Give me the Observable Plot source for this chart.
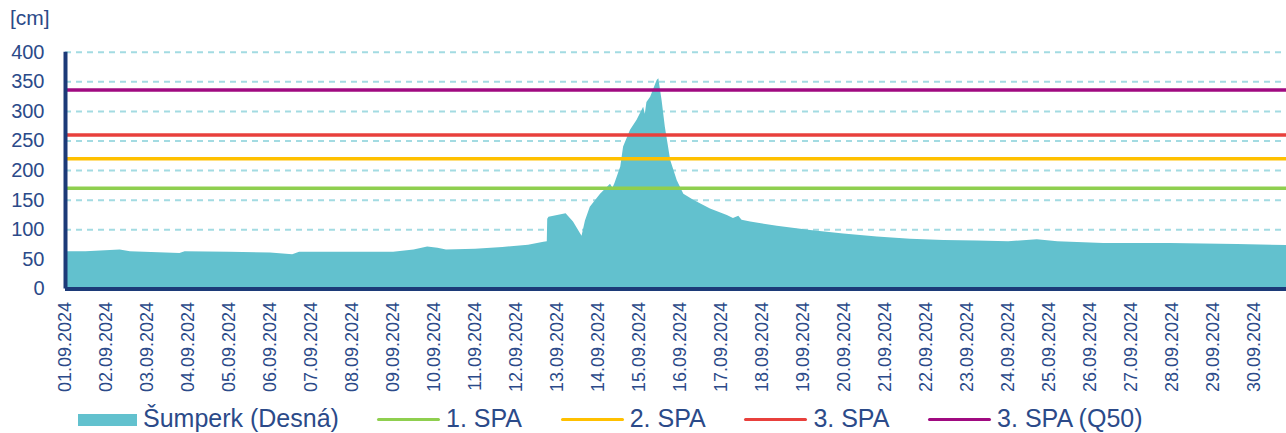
<!DOCTYPE html>
<html>
<head>
<meta charset="utf-8">
<script src="https://cdn.jsdelivr.net/npm/d3@7"></script>
<script src="https://cdn.jsdelivr.net/npm/@observablehq/plot@0.6"></script>
<style>
  html, body { margin: 0; padding: 0; background: #fff; overflow: hidden; }
  #wrap { position: relative; width: 1286px; height: 433px; font-family: "Liberation Sans", Arial, sans-serif; color: #2b4a89; }
  #unit { position: absolute; left: 10px; top: 6px; font-size: 21px; line-height: normal; }
  #chart { position: absolute; left: 0; top: 30px; }
  #legend { position: absolute; left: 0; top: 400px; width: 1286px; height: 33px; }
  #legend .sw { position: absolute; }
  #legend .tx { position: absolute; top: 4px; font-size: 25px; line-height: normal; white-space: nowrap; }
</style>
</head>
<body>
<div id="wrap">
  <div id="unit"></div>
  <div id="chart"></div>
  <div id="legend"></div>
</div>
<script>
// ---- data ----
const unitLabel = "[cm]";
const seriesName = "Šumperk (Desná)";
const seriesColor = "#62c1ce";
const times = [
  "2024-09-01T00:00","2024-09-01T12:00","2024-09-02T08:00","2024-09-02T14:00","2024-09-03T19:00",
  "2024-09-03T22:00","2024-09-05T00:00","2024-09-06T00:00","2024-09-06T13:00","2024-09-06T17:00",
  "2024-09-08T00:00","2024-09-09T00:00","2024-09-09T12:00","2024-09-09T20:00","2024-09-10T02:00",
  "2024-09-10T07:00","2024-09-11T00:00","2024-09-11T16:00","2024-09-12T07:00","2024-09-12T16:00",
  "2024-09-12T18:00","2024-09-12T18:15","2024-09-12T19:00","2024-09-13T05:00","2024-09-13T09:20",
  "2024-09-13T14:20","2024-09-13T16:20","2024-09-13T19:10","2024-09-14T01:10","2024-09-14T07:00",
  "2024-09-14T08:24","2024-09-14T09:36","2024-09-14T13:00","2024-09-14T14:40","2024-09-14T18:43",
  "2024-09-14T22:34","2024-09-15T02:24","2024-09-15T03:22","2024-09-15T04:19","2024-09-15T06:29",
  "2024-09-15T10:19","2024-09-15T11:17","2024-09-15T13:12","2024-09-15T15:07","2024-09-15T18:14",
  "2024-09-15T22:05","2024-09-16T01:55","2024-09-16T07:41","2024-09-16T17:31","2024-09-17T03:22",
  "2024-09-17T06:58","2024-09-17T10:05","2024-09-17T12:00","2024-09-17T17:02","2024-09-18T08:38",
  "2024-09-19T04:05","2024-09-19T23:31","2024-09-20T19:12","2024-09-21T14:38","2024-09-22T10:05",
  "2024-09-23T05:46","2024-09-24T00:00","2024-09-24T16:48","2024-09-25T04:48","2024-09-26T07:41",
  "2024-09-27T22:48","2024-09-29T13:55","2024-09-30T18:40"
];
const levels = [
  63, 63, 66, 63, 60,
  63, 62, 61, 58, 62,
  62, 62, 66, 71, 69,
  66, 67, 70, 74, 79,
  80, 118, 121, 127, 113,
  89, 115, 138, 160, 177,
  170, 178, 206, 240, 268,
  285, 307, 295, 315, 324,
  352, 355, 318, 273, 217,
  183, 160, 150, 135, 124,
  119, 123, 116, 113, 106,
  99, 93, 88, 84, 82,
  81, 80, 83, 80, 77,
  77, 75, 73.5
];
const spaNames = ["1. SPA", "2. SPA", "3. SPA", "3. SPA (Q50)"];
const spaValues = [170, 220, 260, 336];
const spaColors = ["#8fcf4f", "#ffc000", "#e8403c", "#a00a80"];
const yTicks = [0, 50, 100, 150, 200, 250, 300, 350, 400];
const tickLabels = [
  "01.09.2024","02.09.2024","03.09.2024","04.09.2024","05.09.2024","06.09.2024","07.09.2024","08.09.2024",
  "09.09.2024","10.09.2024","11.09.2024","12.09.2024","13.09.2024","14.09.2024","15.09.2024","16.09.2024",
  "17.09.2024","18.09.2024","19.09.2024","20.09.2024","21.09.2024","22.09.2024","23.09.2024","24.09.2024",
  "25.09.2024","26.09.2024","27.09.2024","28.09.2024","29.09.2024","30.09.2024"
];

// ---- build ----
const navy = "#1c3a78";
const data = times.map((t, i) => ({t: new Date(t + "Z"), v: levels[i]}));
const tickDates = tickLabels.map(s => { const [d, m, y] = s.split("."); return new Date(`${y}-${m}-${d}T00:00Z`); });
const fmt = d => tickLabels[tickDates.findIndex(t => +t === +d)];

document.getElementById("unit").textContent = unitLabel;

const chart = Plot.plot({
  width: 1286,
  height: 370,
  marginLeft: 65,
  marginRight: 0,
  marginTop: 21.7,
  marginBottom: 111.5,
  style: {fontFamily: "Liberation Sans, Arial, sans-serif", color: "#2b4a89", background: "transparent", overflow: "visible"},
  x: {type: "utc", domain: d3.extent(data, d => d.t)},
  y: {domain: [0, 400]},
  marks: [
    Plot.ruleY(yTicks.filter(v => v > 0), {stroke: "#a3dbe2", strokeWidth: 2, strokeDasharray: "6,5"}),
    Plot.areaY(data, {x: "t", y: "v", fill: seriesColor}),
    ...spaValues.map((v, i) => Plot.ruleY([v], {stroke: spaColors[i], strokeWidth: 3.5})),
    Plot.ruleX([data[0].t], {stroke: navy, strokeWidth: 4}),
    Plot.ruleY([0], {stroke: navy, strokeWidth: 4}),
    Plot.axisY({ticks: yTicks, tickSize: 0, tickPadding: 21, fontSize: 20, label: null}),
    Plot.axisX({ticks: tickDates, tickFormat: fmt, tickRotate: -90, tickSize: 0, tickPadding: 13, fontSize: 18, label: null})
  ]
});
document.getElementById("chart").append(chart);

// ---- legend ----
const legend = document.getElementById("legend");
const items = [
  {name: seriesName, color: seriesColor, kind: "box", left: 78, width: 59},
  ...spaNames.map((n, i) => ({name: n, color: spaColors[i], kind: "line", left: 377 + i * 183.7, width: 63}))
];
for (const it of items) {
  const sw = document.createElement("div");
  sw.className = "sw";
  sw.style.left = it.left + "px";
  sw.style.width = it.width + "px";
  sw.style.background = it.color;
  if (it.kind === "box") { sw.style.top = "14px"; sw.style.height = "12px"; }
  else { sw.style.top = "18px"; sw.style.height = "3px"; sw.style.borderRadius = "2px"; }
  legend.append(sw);
  const tx = document.createElement("div");
  tx.className = "tx";
  tx.style.left = (it.left + it.width + 6) + "px";
  tx.textContent = it.name;
  legend.append(tx);
}
</script>
</body>
</html>
